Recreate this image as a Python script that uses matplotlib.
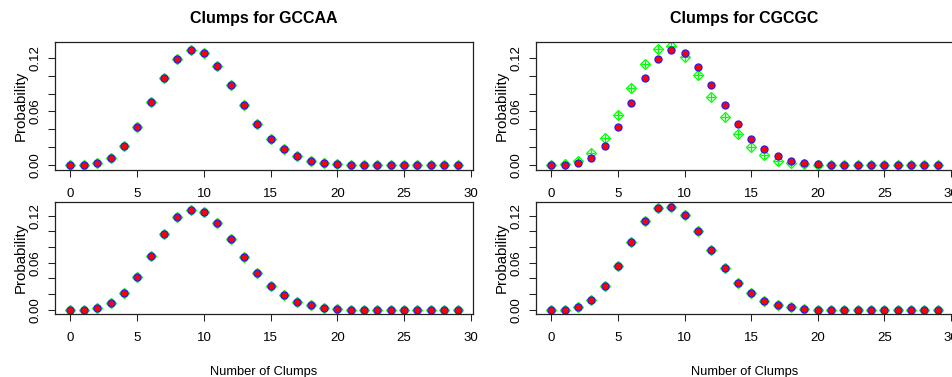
import matplotlib
matplotlib.use("Agg")
import matplotlib.pyplot as plt
from matplotlib.ticker import MultipleLocator, FixedFormatter, FixedLocator

plt.rcParams["font.family"] = ["Liberation Sans", "DejaVu Sans"]

clumps = list(range(30))

# GCCAA: the three estimates sit on top of each other
gccaa_top_green = [0.0, 0.0004, 0.0022, 0.0086, 0.0220, 0.0429, 0.0701, 0.0977, 0.1185, 0.1282,
                   0.1252, 0.1103, 0.0894, 0.0667, 0.0462, 0.0298, 0.0179, 0.0101, 0.0052, 0.0026,
                   0.0011, 0.0004, 0.0002, 0.0001, 0.0, 0.0, 0.0, 0.0, 0.0, 0.0]
gccaa_top_blue = gccaa_top_green
gccaa_top_red = gccaa_top_green

gccaa_bot_green = [0.0, 0.0004, 0.0025, 0.0085, 0.0212, 0.0424, 0.0691, 0.0963, 0.1179, 0.1277,
                   0.1251, 0.1107, 0.0904, 0.0674, 0.0471, 0.0310, 0.0191, 0.0106, 0.0059, 0.0025,
                   0.0013, 0.0004, 0.0002, 0.0001, 0.0, 0.0, 0.0, 0.0, 0.0, 0.0]
gccaa_bot_blue = gccaa_bot_green
gccaa_bot_red = gccaa_bot_green

# CGCGC: green differs from blue/red in the top panel
cgcgc_top_green = [0.0, 0.0010, 0.0045, 0.0134, 0.0302, 0.0559, 0.0861, 0.1129, 0.1301, 0.1334,
                   0.1204, 0.1006, 0.0764, 0.0533, 0.0347, 0.0205, 0.0116, 0.0052, 0.0026, 0.0011,
                   0.0004, 0.0001, 0.0, 0.0, 0.0, 0.0, 0.0, 0.0, 0.0, 0.0]
cgcgc_top_blue = [0.0, 0.0002, 0.0022, 0.0086, 0.0220, 0.0429, 0.0700, 0.0977, 0.1185, 0.1282,
                  0.1252, 0.1100, 0.0894, 0.0667, 0.0462, 0.0298, 0.0179, 0.0101, 0.0052, 0.0026,
                  0.0011, 0.0004, 0.0002, 0.0001, 0.0, 0.0, 0.0, 0.0, 0.0, 0.0]
cgcgc_top_red = cgcgc_top_blue

cgcgc_bot_green = [0.0, 0.0004, 0.0042, 0.0127, 0.0305, 0.0564, 0.0861, 0.1128, 0.1293, 0.1315,
                   0.1204, 0.1001, 0.0763, 0.0534, 0.0348, 0.0212, 0.0119, 0.0064, 0.0030, 0.0013,
                   0.0004, 0.0001, 0.0, 0.0, 0.0, 0.0, 0.0, 0.0, 0.0, 0.0]
cgcgc_bot_blue = cgcgc_bot_green
cgcgc_bot_red = cgcgc_bot_green

ytick_vals = [0.0, 0.02, 0.04, 0.06, 0.08, 0.10, 0.12]
ytick_text = ["0.00", "", "", "0.06", "", "", "0.12"]

W, H = 952, 377
fig = plt.figure(figsize=(W / 100, H / 100), dpi=100)


def px_axes(x0, y0, x1, y1):
    return fig.add_axes([x0 / W, 1 - y1 / H, (x1 - x0) / W, (y1 - y0) / H])


def draw_panel(ax, green, blue, red, title=None, xlabel=None):
    ax.plot(clumps, green, linestyle="none", marker="D", markersize=5.0,
            markerfacecolor="none", markeredgecolor="#00ff00", markeredgewidth=0.9)
    ax.plot(clumps, green, linestyle="none", marker="+", markersize=6.0,
            color="#00ff00", markeredgewidth=0.9)
    ax.plot(clumps, blue, linestyle="none", marker="o", markersize=6.0,
            color="#1f1fff", markeredgewidth=0)
    ax.plot(clumps, red, linestyle="none", marker="o", markersize=4.3,
            color="#ff0000", markeredgewidth=0)
    ax.set_xlim(-1.16, 30.16)
    ax.set_ylim(-0.0053, 0.1375)
    ax.xaxis.set_major_locator(MultipleLocator(5))
    ax.yaxis.set_major_locator(FixedLocator(ytick_vals))
    ax.yaxis.set_major_formatter(FixedFormatter(ytick_text))
    ax.tick_params(axis="x", direction="out", length=5, width=0.75, labelsize=9.5, pad=8,
                   color="#222222")
    ax.tick_params(axis="y", direction="out", length=5, width=0.75, labelsize=9.5, pad=5,
                   color="#222222")
    for lab in ax.get_yticklabels():
        lab.set_rotation(90)
        lab.set_va("center")
    for sp in ax.spines.values():
        sp.set_linewidth(0.9)
        sp.set_color("#222222")
    ax.set_ylabel("Probability", fontsize=10.8, labelpad=1)
    if title:
        bb = ax.get_position()
        fig.text((bb.x0 + bb.x1) / 2, 1 - 23.5 / H, title, ha="center", va="baseline",
                 fontsize=11.5, fontweight="bold")
    if xlabel:
        ax.set_xlabel(xlabel, fontsize=9.3, labelpad=16)


ax1 = px_axes(55, 42, 473, 170)
ax2 = px_axes(536, 42, 953, 170)
ax3 = px_axes(55, 202, 473, 314)
ax4 = px_axes(536, 202, 953, 314)

draw_panel(ax1, gccaa_top_green, gccaa_top_blue, gccaa_top_red, title="Clumps for GCCAA")
draw_panel(ax2, cgcgc_top_green, cgcgc_top_blue, cgcgc_top_red, title="Clumps for CGCGC")
draw_panel(ax3, gccaa_bot_green, gccaa_bot_blue, gccaa_bot_red, xlabel="Number of Clumps")
draw_panel(ax4, cgcgc_bot_green, cgcgc_bot_blue, cgcgc_bot_red, xlabel="Number of Clumps")

fig.savefig("out.png", dpi=100)
